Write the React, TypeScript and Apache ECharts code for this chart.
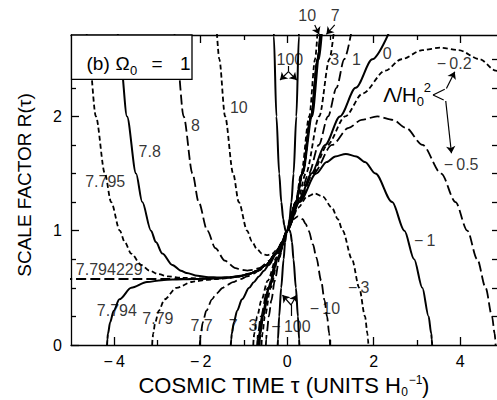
import React, { useEffect, useRef } from 'react';
import * as echarts from 'echarts';

const FONT = '"Liberation Sans", Arial, Helvetica, sans-serif';
const X_MIN = -5;
const X_MAX = 4.85;
const Y_MIN = 0;
const Y_MAX = 2.712;

const xMajorTicks = [-4, -2, 0, 2, 4];
const xMinorTicks = [-3, -1, 1, 3];
const yMajorTicks = [0, 1, 2];
const yMinorTicks = [0.25, 0.5, 0.75, 1.25, 1.5, 1.75, 2.25, 2.5];
const yRightTicks = [0.25, 0.5, 0.75, 1, 1.25, 1.5, 1.75, 2, 2.25, 2.5];

// [tau, R] points, one array per Lambda/H0^2 value
const lam100: number[][] = [[-0.317, 2.8], [-0.31, 2.7], [-0.25, 2.0], [-0.186, 1.5], [-0.137, 1.25], [-0.092, 1.1], [-0.07, 1.05], [-0.04, 1.0], [-0.02, 0.985], [0, 1], [0.03, 1.05], [0.052, 1.1], [0.097, 1.25], [0.146, 1.5], [0.21, 2.0], [0.27, 2.7], [0.277, 2.8]];
const lam10: number[][] = [[-1.638, 2.8], [-1.571, 2.5], [-1.437, 2.0], [-1.251, 1.5], [-1.12, 1.25], [-0.927, 1.0], [-0.818, 0.9066], [-0.703, 0.8399], [-0.584, 0.7998], [-0.524, 0.7898], [-0.4637, 0.7865], [-0.403, 0.7898], [-0.343, 0.7998], [-0.224, 0.8399], [-0.1096, 0.9066], [0, 1], [0.192, 1.25], [0.323, 1.5], [0.509, 2.0], [0.644, 2.5], [0.71, 2.8]];
const lam8: number[][] = [[-2.62, 2.8], [-2.546, 2.5], [-2.396, 2.0], [-2.191, 1.5], [-2.048, 1.25], [-1.847, 1.0], [-1.661, 0.8475], [-1.446, 0.7385], [-1.194, 0.6732], [-1.061, 0.6568], [-0.923, 0.6514], [-0.785, 0.6568], [-0.652, 0.6732], [-0.401, 0.7385], [-0.186, 0.8475], [0, 1], [0.201, 1.25], [0.344, 1.5], [0.549, 2.0], [0.699, 2.5], [0.773, 2.8]];
const lam78: number[][] = [[-3.932, 2.8], [-3.857, 2.5], [-3.705, 2.0], [-3.496, 1.5], [-3.352, 1.25], [-3.15, 1.0], [-3.0375, 0.9], [-2.888, 0.8], [-2.656, 0.7], [-2.459, 0.65], [-2.325, 0.6302], [-2.075, 0.605], [-1.825, 0.5935], [-1.575, 0.5902], [-1.325, 0.5935], [-1.075, 0.605], [-0.825, 0.6302], [-0.691, 0.65], [-0.494, 0.7], [-0.262, 0.8], [-0.1125, 0.9], [0, 1], [0.202, 1.25], [0.346, 1.5], [0.555, 2.0], [0.707, 2.5], [0.782, 2.8]];
const lam7795: number[][] = [[-4.652, 2.8], [-4.577, 2.5], [-4.425, 2.0], [-4.216, 1.5], [-4.072, 1.25], [-3.87, 1.0], [-3.7575, 0.9], [-3.608, 0.8], [-3.376, 0.7], [-3.179, 0.65], [-2.982, 0.62], [-2.752, 0.6], [-2.435, 0.5875], [-1.935, 0.5821], [-1.435, 0.5875], [-1.118, 0.6], [-0.888, 0.62], [-0.691, 0.65], [-0.494, 0.7], [-0.262, 0.8], [-0.1125, 0.9], [0, 1], [0.202, 1.25], [0.346, 1.5], [0.555, 2.0], [0.707, 2.5], [0.782, 2.8]];
const lamCrit: number[][] = [[-5.2, 0.57735], [-3.5, 0.57735], [-2.8, 0.5775], [-2.5, 0.5778], [-2.2, 0.5785], [-1.889, 0.58], [-1.508, 0.585], [-1.118, 0.6], [-0.888, 0.62], [-0.691, 0.65], [-0.494, 0.7], [-0.262, 0.8], [-0.1125, 0.9], [0, 1], [0.202, 1.25], [0.346, 1.5], [0.555, 2.0], [0.707, 2.5], [0.782, 2.8]];
const lam7794: number[][] = [[-4.167, 0], [-4.159, 0.05], [-4.144, 0.1], [-4.095, 0.2], [-4.014, 0.3], [-3.88, 0.4], [-3.606, 0.5], [-3.243, 0.5506], [-2.903, 0.5671], [-2.653, 0.5725], [-2.153, 0.57735], [-1.653, 0.5822], [-1.403, 0.5876], [-1.153, 0.598], [-0.888, 0.62], [-0.691, 0.65], [-0.494, 0.7], [-0.262, 0.8], [-0.1125, 0.9], [0, 1], [0.202, 1.25], [0.346, 1.5], [0.555, 2.0], [0.707, 2.5], [0.782, 2.8]];
const lam779: number[][] = [[-3.123, 0], [-3.115, 0.05], [-3.1, 0.1], [-3.051, 0.2], [-2.97, 0.3], [-2.836, 0.4], [-2.562, 0.5], [-2.206, 0.551], [-2.131, 0.5565], [-1.881, 0.5691], [-1.631, 0.5774], [-1.381, 0.5857], [-1.131, 0.5982], [-0.888, 0.62], [-0.691, 0.65], [-0.494, 0.7], [-0.262, 0.8], [-0.1125, 0.9], [0, 1], [0.203, 1.25], [0.347, 1.5], [0.556, 2.0], [0.708, 2.5], [0.783, 2.8]];
const lam77: number[][] = [[-2.023, 0], [-2.0155, 0.05], [-2.0, 0.1], [-1.951, 0.2], [-1.871, 0.3], [-1.74, 0.4], [-1.638, 0.45], [-1.492, 0.5], [-1.388, 0.525], [-1.255, 0.55], [-1.094, 0.575], [-0.922, 0.6], [-0.775, 0.625], [-0.657, 0.65], [-0.485, 0.7], [-0.358, 0.75], [-0.18, 0.85], [-0.053, 0.95], [0, 1], [0.2025, 1.25], [0.3475, 1.5], [0.5566, 2.0], [0.7091, 2.5], [0.7848, 2.8]];
const lam7: number[][] = [[-1.304, 0], [-1.296, 0.05], [-1.281, 0.1], [-1.233, 0.2], [-1.159, 0.3], [-1.046, 0.4], [-0.88, 0.5], [-0.773, 0.55], [-0.654, 0.6], [-0.537, 0.65], [-0.428, 0.7], [-0.25, 0.8], [-0.11, 0.9], [0, 1], [0.206, 1.25], [0.356, 1.5], [0.574, 2.0], [0.734, 2.5], [0.813, 2.8]];
const lam3: number[][] = [[-0.785, 0], [-0.7775, 0.05], [-0.764, 0.1], [-0.695, 0.25], [-0.599, 0.39], [-0.452, 0.5625], [-0.246, 0.766], [-0.102, 0.9], [0, 1], [0.232, 1.25], [0.429, 1.5], [0.739, 2.0], [0.976, 2.5], [1.095, 2.8]];
const lam1: number[][] = [[-0.697, 0], [-0.6895, 0.05], [-0.676, 0.1], [-0.611, 0.25], [-0.451, 0.5], [-0.241, 0.75], [0, 1], [0.252, 1.25], [0.499, 1.5], [0.73, 1.75], [0.944, 2.0], [1.139, 2.25], [1.318, 2.5], [1.512, 2.8]];
const lam0: number[][] = [[-0.6667, 0], [-0.6592, 0.05], [-0.6456, 0.1], [-0.5833, 0.25], [-0.431, 0.5], [-0.2337, 0.75], [0, 1], [0.265, 1.25], [0.5581, 1.5], [0.8767, 1.75], [1.219, 2.0], [1.5833, 2.25], [1.9686, 2.5], [2.3736, 2.75]];
const lamM02: number[][] = [[-0.661, 0], [-0.654, 0.05], [-0.64, 0.1], [-0.578, 0.25], [-0.427, 0.5], [-0.235, 0.75], [0, 1], [0.268, 1.25], [0.576, 1.5], [0.929, 1.75], [1.34, 2.0], [1.744, 2.2], [2.268, 2.4], [2.64, 2.5], [3.131, 2.58], [3.545, 2.6012], [3.959, 2.58], [4.45, 2.5], [4.822, 2.4], [5.346, 2.2]];
const lamM05: number[][] = [[-0.653, 0], [-0.6455, 0.05], [-0.632, 0.1], [-0.571, 0.25], [-0.424, 0.5], [-0.229, 0.75], [0, 1], [0.273, 1.25], [0.604, 1.5], [1.036, 1.75], [1.421, 1.9], [1.72, 1.97], [2.082, 2.0], [2.444, 1.97], [2.743, 1.9], [3.128, 1.75], [3.56, 1.5], [3.891, 1.25], [4.164, 1.0], [4.393, 0.75], [4.588, 0.5], [4.735, 0.25], [4.796, 0.1], [4.8095, 0.05], [4.817, 0]];
const lamM1: number[][] = [[-0.641, 0], [-0.633, 0.05], [-0.62, 0.1], [-0.56, 0.25], [-0.414, 0.5], [-0.225, 0.75], [0, 1], [0.283, 1.25], [0.67, 1.5], [0.9125, 1.6], [1.111, 1.65], [1.3545, 1.6717], [1.598, 1.65], [1.797, 1.6], [2.039, 1.5], [2.426, 1.25], [2.709, 1.0], [2.934, 0.75], [3.123, 0.5], [3.269, 0.25], [3.329, 0.1], [3.343, 0.05], [3.35, 0]];
const lamM3: number[][] = [[-0.595, 0], [-0.588, 0.05], [-0.5745, 0.1], [-0.517, 0.25], [-0.384, 0.5], [-0.216, 0.75], [0, 1], [0.109, 1.1], [0.246, 1.2], [0.465, 1.3], [0.6405, 1.3247], [0.816, 1.3], [1.035, 1.2], [1.172, 1.1], [1.281, 1.0], [1.497, 0.75], [1.665, 0.5], [1.798, 0.25], [1.855, 0.1], [1.868, 0.05], [1.876, 0]];
const lamM10: number[][] = [[-0.494, 0], [-0.487, 0.05], [-0.475, 0.1], [-0.425, 0.25], [-0.368, 0.39], [-0.289, 0.5625], [-0.177, 0.766], [-0.101, 0.879], [0, 1], [0.069, 1.06], [0.136, 1.1], [0.2476, 1.1254], [0.359, 1.1], [0.426, 1.06], [0.495, 1.0], [0.596, 0.879], [0.672, 0.766], [0.784, 0.5625], [0.863, 0.39], [0.92, 0.25], [0.9705, 0.1], [0.982, 0.05], [0.989, 0]];
const lamM100: number[][] = [[-0.22, 0], [-0.2145, 0.05], [-0.187, 0.25], [-0.14, 0.5], [-0.084, 0.75], [-0.05, 0.9], [-0.016, 0.98], [0, 1], [0.03, 1.0147], [0.06, 1], [0.076, 0.98], [0.11, 0.9], [0.144, 0.75], [0.2, 0.5], [0.247, 0.25], [0.2745, 0.05], [0.28, 0]];

const curveNames = ['100', '10', '8', '7.8', '7.795', '7.794229', '7.794', '7.79', '7.7', '7', '3', '1', '0', '-0.2', '-0.5', '-1', '-3', '-10', '-100'];
const curveData = [lam100, lam10, lam8, lam78, lam7795, lamCrit, lam7794, lam779, lam77, lam7, lam3, lam1, lam0, lamM02, lamM05, lamM1, lamM3, lamM10, lamM100];
const curveStyles = ['solid', 'short', 'long', 'solid', 'short', 'long', 'solid', 'short', 'long', 'solid', 'short', 'long', 'solid', 'short', 'long', 'solid', 'short', 'long', 'solid'];

const M = '\u2212\u2009';
// curve labels: [tau, R, text]
const curveLabels: [number, number, string][] = [
  [-1.12, 2.08, '10'],
  [-2.12, 1.92, '8'],
  [-3.18, 1.69, '7.8'],
  [-4.21, 1.43, '7.795'],
  [-4.116, 0.661, '7.794229'],
  [-3.94, 0.3, '7.794'],
  [-2.99, 0.23, '7.79'],
  [-1.98, 0.17, '7.7'],
  [-1.25, 0.17, '7'],
  [-0.79, 0.17, '3'],
  [0.086, 0.166, M + '100'],
  [0.87, 0.315, M + '10'],
  [1.65, 0.5, M + '3'],
  [3.18, 0.91, M + '1'],
  [0.46, 2.88, '10'],
  [1.11, 2.88, '7'],
  [0.06, 2.5, '100'],
  [1.1, 2.5, '3'],
  [1.6, 2.5, '1'],
  [2.31, 2.55, '0'],
  [3.86, 2.46, M + '0.2'],
  [4.02, 1.58, M + '0.5'],
];

// annotation segments [x1, y1, x2, y2] in data units
const arrowSegments: number[][] = [
  [0.636, 2.8, 0.735, 2.718],
  [1.098, 2.8, 0.906, 2.718],
  [0.028, 2.391, -0.166, 2.318],
  [0.028, 2.391, 0.22, 2.318],
  [0.088, 0.35, -0.111, 0.437],
  [0.088, 0.35, 0.22, 0.437],
  [3.681, 2.244, 3.873, 2.391],
  [3.665, 2.135, 3.797, 1.677],
];
const plainSegments: number[][] = [
  [0.028, 2.441, 0.028, 2.391],
  [0.088, 0.254, 0.088, 0.35],
  [3.642, 2.237, 3.371, 2.187],
  [3.371, 2.187, 3.618, 2.143],
];

const fmtTick = (v: number) => (v < 0 ? M + Math.abs(v) : String(v));

function buildOption() {
  const black = '#000';
  const axLine = { show: true, onZero: false, lineStyle: { color: black, width: 1.3 } };
  const noLine = { show: false, onZero: false };
  const tickStyle = { color: black, width: 1.3 };
  const xBase = { type: 'value', min: X_MIN, max: X_MAX, splitLine: { show: false }, gridIndex: 0 };
  const yBase = { type: 'value', min: Y_MIN, max: Y_MAX, splitLine: { show: false }, gridIndex: 0 };

  const lineSeries = curveData.map((d, i) => {
    const st = curveStyles[i];
    return {
      type: 'line',
      name: curveNames[i],
      data: d,
      xAxisIndex: 0,
      yAxisIndex: 0,
      showSymbol: false,
      symbol: 'none',
      smooth: 0.3,
      smoothMonotone: 'x',
      clip: true,
      silent: true,
      z: 2,
      lineStyle: {
        color: black,
        width: st === 'solid' ? 2 : 1.8,
        type: st === 'solid' ? 'solid' : st === 'short' ? [5, 3] : [10, 4],
      },
    };
  });

  const txt = (x: number, y: number, text: string, size: number, align = 'left', extra: any = {}) => ({
    type: 'text', z: 101, x, y, ...extra,
    style: { text, font: size + 'px ' + FONT, fill: black, align, verticalAlign: 'middle' },
  });

  return {
    animation: false,
    backgroundColor: '#fff',
    grid: { left: 71, right: 0, top: 35, bottom: 55, containLabel: false },
    xAxis: [
      { ...xBase, position: 'bottom', axisLine: axLine,
        axisTick: { show: true, inside: true, length: 8, customValues: xMajorTicks, lineStyle: tickStyle },
        axisLabel: { show: true, customValues: xMajorTicks, formatter: fmtTick, color: black, fontSize: 16, fontFamily: FONT, margin: 8 } },
      { ...xBase, position: 'bottom', axisLine: noLine,
        axisTick: { show: true, inside: true, length: 5, customValues: xMinorTicks, lineStyle: tickStyle },
        axisLabel: { show: false } },
      { ...xBase, position: 'top', axisLine: axLine,
        axisTick: { show: true, inside: true, length: 8, customValues: xMajorTicks, lineStyle: tickStyle },
        axisLabel: { show: false } },
      { ...xBase, position: 'top', axisLine: noLine,
        axisTick: { show: true, inside: true, length: 5, customValues: xMinorTicks, lineStyle: tickStyle },
        axisLabel: { show: false } },
    ],
    yAxis: [
      { ...yBase, position: 'left', axisLine: axLine,
        axisTick: { show: true, inside: true, length: 8, customValues: yMajorTicks, lineStyle: tickStyle },
        axisLabel: { show: true, customValues: yMajorTicks, color: black, fontSize: 16, fontFamily: FONT, margin: 9 } },
      { ...yBase, position: 'left', axisLine: noLine,
        axisTick: { show: true, inside: true, length: 5, customValues: yMinorTicks, lineStyle: tickStyle },
        axisLabel: { show: false } },
      { ...yBase, position: 'right', axisLine: noLine,
        axisTick: { show: true, inside: true, length: 5, customValues: yRightTicks, lineStyle: tickStyle },
        axisLabel: { show: false } },
    ],
    series: [
      ...lineSeries,
      {
        type: 'lines',
        coordinateSystem: 'cartesian2d',
        xAxisIndex: 0,
        yAxisIndex: 0,
        clip: false,
        silent: true,
        z: 4,
        symbol: ['none', 'arrow'],
        symbolSize: 7,
        lineStyle: { color: black, width: 1.2, type: 'solid', opacity: 1, curveness: 0 },
        data: arrowSegments.map((s) => ({ coords: [[s[0], s[1]], [s[2], s[3]]] })),
      },
      {
        type: 'lines',
        coordinateSystem: 'cartesian2d',
        xAxisIndex: 0,
        yAxisIndex: 0,
        clip: false,
        silent: true,
        z: 4,
        symbol: ['none', 'none'],
        lineStyle: { color: black, width: 1.2, type: 'solid', opacity: 1, curveness: 0 },
        data: plainSegments.map((s) => ({ coords: [[s[0], s[1]], [s[2], s[3]]] })),
      },
      {
        type: 'scatter',
        xAxisIndex: 0,
        yAxisIndex: 0,
        data: curveLabels.map((l) => [l[0], l[1], l[2]]),
        symbolSize: 1,
        itemStyle: { color: 'rgba(0,0,0,0)' },
        clip: false,
        silent: true,
        z: 5,
        label: {
          show: true,
          position: 'inside',
          formatter: (p: any) => p.data[2],
          color: black,
          fontSize: 16,
          fontFamily: FONT,
        },
      },
    ],
    graphic: [
      { type: 'rect', z: 100, shape: { x: 71.5, y: 35, width: 120.5, height: 44.3 }, style: { fill: '#fff', stroke: black, lineWidth: 1.3 } },
      txt(86.5, 63.5, '(b)', 19),
      txt(115.5, 63.5, '\u03A9', 19),
      txt(130, 70.5, '0', 13),
      txt(151.5, 63.5, '=', 19),
      txt(180, 63.5, '1', 19),

      txt(416.5, 95.3, '\u039B/H', 20, 'right'),
      txt(416.8, 101.5, '0', 13),
      txt(423.8, 87.2, '2', 13),

      txt(24, 185, 'SCALE FACTOR R(\u03C4)', 19, 'center', { rotation: Math.PI / 2 }),

      txt(401, 385.7, 'COSMIC TIME \u03C4 (UNITS H', 22, 'right'),
      txt(401.3, 392.3, '0', 12),
      txt(408.8, 379.8, '\u22121', 12),
      txt(422, 385.7, ')', 22),
    ],
  };
}

export default function App() {
  const ref = useRef<HTMLDivElement>(null);
  useEffect(() => {
    if (!ref.current) return;
    const chart = echarts.init(ref.current, null, { renderer: 'svg' });
    chart.setOption(buildOption() as any);
    return () => chart.dispose();
  }, []);
  return (
    <div
      ref={ref}
      style={{ position: 'absolute', left: 0, top: 0, width: 497, height: 400, background: '#fff' }}
    />
  );
}
